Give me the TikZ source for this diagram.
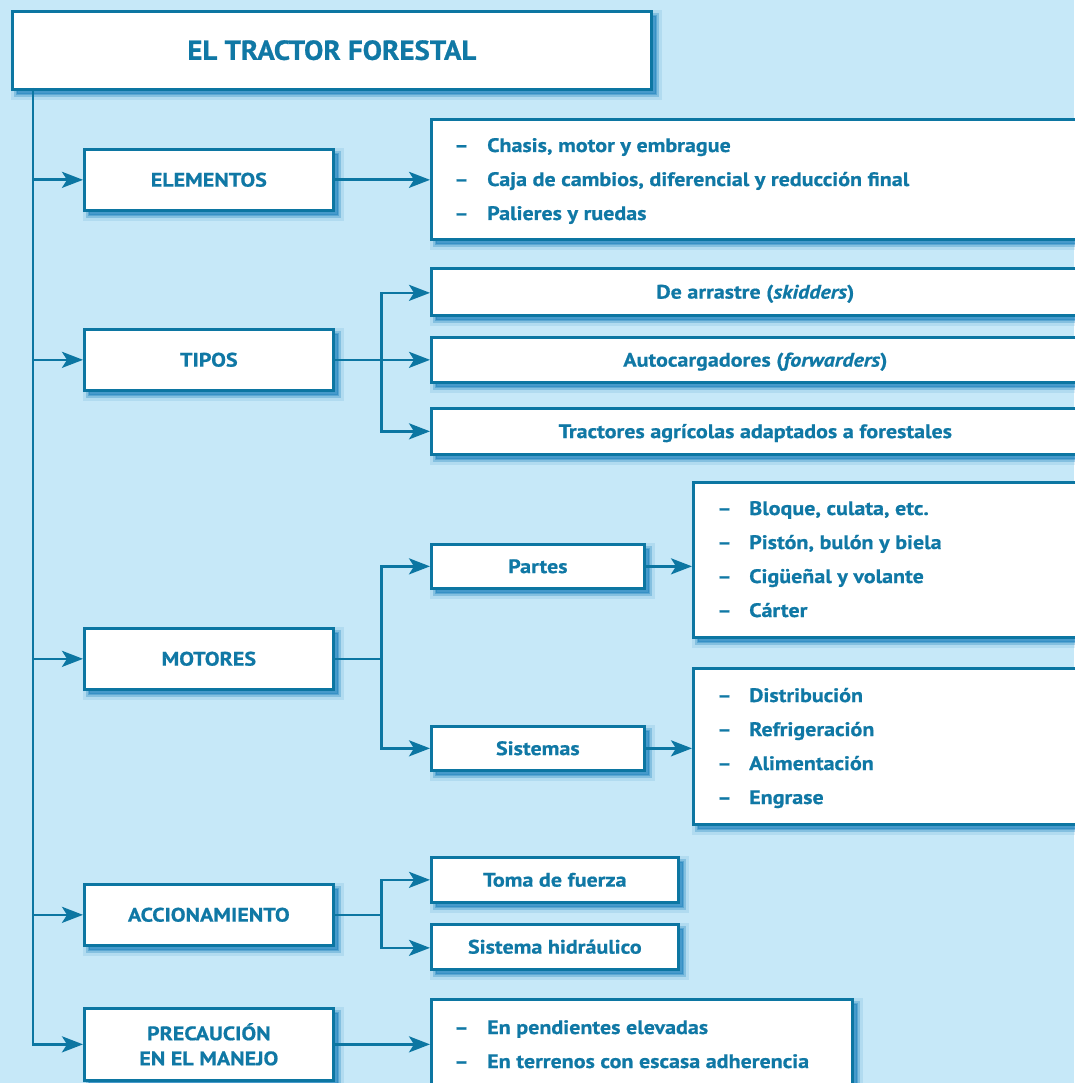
\documentclass[tikz,border=0pt]{standalone}
\usepackage{fontspec}
\setmainfont{PT Sans Bold}[ItalicFont={PT Sans Bold Italic}, FakeStretch=1.13, FakeBold=0.7]
\newfontfamily\titlefont{PT Sans Bold}[FakeStretch=1.05, FakeBold=0.8]
\usetikzlibrary{arrows.meta}
\definecolor{bgc}{RGB}{198,232,248}
\definecolor{lc}{RGB}{12,118,162}
\definecolor{tc}{RGB}{16,120,165}
\definecolor{shc}{RGB}{30,130,190}
\begin{document}
\begin{tikzpicture}[x=1pt,y=-1pt,
  shad/.style={
    preaction={draw=shc, line width=12pt, draw opacity=0.12, fill=shc, fill opacity=0.6, transform canvas={shift={(4.5pt,-4.5pt)}}},
    preaction={draw=shc, line width=6pt, draw opacity=0.3, transform canvas={shift={(4.5pt,-4.5pt)}}},
    preaction={draw=shc, line width=2pt, draw opacity=0.4, transform canvas={shift={(4.5pt,-4.5pt)}}}},
  box/.style={shad, draw=lc, line width=2.7pt, fill=white, inner sep=0pt, text=tc,
    font=\fontsize{19.5}{25}\selectfont, align=center, anchor=north west},
  one/.style={text height=13.5pt, text depth=0pt},
  conn/.style={draw=lc, line width=2.7pt},
  arr/.style={conn, -{Stealth[length=21pt,width=16pt,inset=5pt]}},
  listitem/.style={anchor=base west, inner sep=0pt, text=tc, font=\fontsize{19.5}{25}\selectfont}]
\fill[bgc] (0,0) rectangle (1074,1083);
\useasboundingbox (0,0) rectangle (1074,1083);

% title
\node[box, one, minimum width=639pt, minimum height=78pt, font=\titlefont\fontsize{27.5}{30}\selectfont, text height=19pt] (title) at (11,10) {EL TRACTOR FORESTAL};

% left column
\node[box, one, minimum width=249pt, minimum height=61pt] (elem) at (83,148) {ELEMENTOS};
\node[box, one, minimum width=249pt, minimum height=61pt] (tipos) at (83,328) {TIPOS};
\node[box, one, minimum width=249pt, minimum height=61pt] (motor) at (83,627) {MOTORES};
\node[box, one, minimum width=249pt, minimum height=61pt] (accion) at (83,883) {ACCIONAMIENTO};
\node[box, minimum width=249pt, minimum height=72pt] (prec) at (83,1007) {PRECAUCIÓN\\EN EL MANEJO};

% elementos list
\node[box, minimum width=648pt, minimum height=120pt] (elist) at (430,118) {};
\node[listitem] (e1) at (454,152) {\makebox[33pt][l]{–}Chasis, motor y embrague};
\node[listitem] (e2) at (454,186) {\makebox[33pt][l]{–}Caja de cambios, diferencial y reducción final};
\node[listitem] (e3) at (454,220) {\makebox[33pt][l]{–}Palieres y ruedas};

% tipos
\node[box, one, minimum width=648pt, minimum height=47pt] (skid) at (430,267) {De arrastre (\textit{skidders})};
\node[box, one, minimum width=648pt, minimum height=45pt] (forw) at (430,336) {Autocargadores (\textit{forwarders})};
\node[box, one, minimum width=648pt, minimum height=46pt] (agri) at (430,407) {Tractores agrícolas adaptados a forestales};

% motores
\node[box, one, minimum width=213pt, minimum height=44pt] (partes) at (430,543) {Partes};
\node[box, one, minimum width=213pt, minimum height=44pt] (sist) at (430,725) {Sistemas};
\node[box, minimum width=386pt, minimum height=155pt] (plist) at (692,481) {};
\node[listitem] (p1) at (717,515) {\makebox[32pt][l]{–}Bloque, culata, etc.};
\node[listitem] (p2) at (717,549) {\makebox[32pt][l]{–}Pistón, bulón y biela};
\node[listitem] (p3) at (717,583) {\makebox[32pt][l]{–}Cigüeñal y volante};
\node[listitem] (p4) at (717,617) {\makebox[32pt][l]{–}Cárter};
\node[box, minimum width=386pt, minimum height=156pt] (slist) at (692,667) {};
\node[listitem] (s1) at (717,702) {\makebox[32pt][l]{–}Distribución};
\node[listitem] (s2) at (717,736) {\makebox[32pt][l]{–}Refrigeración};
\node[listitem] (s3) at (717,770) {\makebox[32pt][l]{–}Alimentación};
\node[listitem] (s4) at (717,804) {\makebox[32pt][l]{–}Engrase};

% accionamiento
\node[box, one, minimum width=247pt, minimum height=45pt] (toma) at (430,856) {Toma de fuerza};
\node[box, one, minimum width=247pt, minimum height=45pt] (hidr) at (430,923) {Sistema hidráulico};

% precaucion list
\node[box, minimum width=421pt, minimum height=100pt] (prlist) at (430,998) {};
\node[listitem] (r1) at (454,1034) {\makebox[33pt][l]{–}En pendientes elevadas};
\node[listitem] (r2) at (454,1068) {\makebox[33pt][l]{–}En terrenos con escasa adherencia};

% trunk
\coordinate (t0) at (33,88);
\draw[arr] (t0) |- (prec.west);
\draw[arr] (t0 |- elem.west) -- (elem.west);
\draw[arr] (t0 |- tipos.west) -- (tipos.west);
\draw[arr] (t0 |- motor.west) -- (motor.west);
\draw[arr] (t0 |- accion.west) -- (accion.west);

% elementos
\draw[arr] (elem.east) -- (elem.east -| elist.west);

% tipos branches
\path (tipos.east) ++(46.5,0) coordinate (jt);
\draw[conn] (tipos.east) -- (jt);
\draw[arr] (jt) |- ([yshift=-1pt]skid.west);
\draw[arr] (jt) -- (jt -| forw.west);
\draw[arr] (jt) |- (agri.west);

% motores branches
\path (motor.east) ++(46.5,0) coordinate (jm);
\draw[conn] (motor.east) -- (jm);
\draw[arr] (jm) |- (partes.west);
\draw[arr] (jm) |- (sist.west);
\draw[arr] (partes.east) -- (partes.east -| plist.west);
\draw[arr] (sist.east) -- (sist.east -| slist.west);

% accionamiento branches
\path (accion.east) ++(46.5,0) coordinate (ja);
\draw[conn] (accion.east) -- (ja);
\draw[arr] (ja) |- (toma.west);
\draw[arr] (ja) |- ([yshift=-1pt]hidr.west);

% precaucion
\draw[arr] (prec.east) -- (prec.east -| prlist.west);
\end{tikzpicture}
\end{document}
